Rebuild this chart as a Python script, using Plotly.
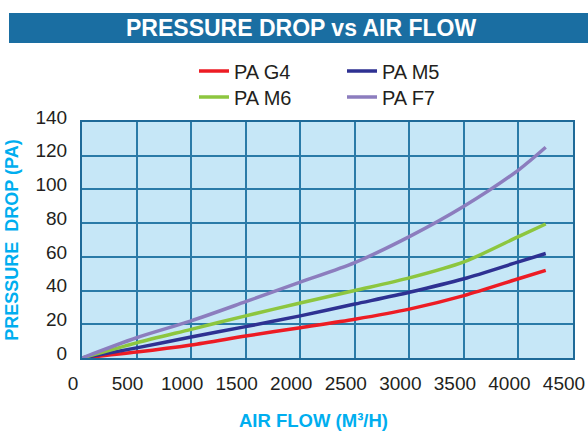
import plotly.graph_objects as go

# Data
air_flow = [0, 500, 1000, 1500, 2000, 2500, 3000, 3500, 4000, 4250]
pa_g4 = [0, 3.5, 7.7, 13, 18, 23, 29, 37, 47, 52]
pa_m5 = [0, 6, 12.5, 18.6, 25, 32, 39, 47, 57, 62]
pa_m6 = [0, 9, 17, 25, 32.6, 40, 47.5, 57, 72, 79.5]
pa_f7 = [0, 12, 22, 33.4, 45, 56.6, 72, 90, 111.5, 125]

series = [
    ("PA G4", pa_g4, "#ED1C24", "legend"),
    ("PA M5", pa_m5, "#2E3192", "legend"),
    ("PA M6", pa_m6, "#8DC63F", "legend2"),
    ("PA F7", pa_f7, "#8C7DBE", "legend2"),
]

FONT = "Liberation Sans, Arial, sans-serif"
TXT = "#231F20"
CYAN = "#00AEEF"

fig = go.Figure()
for name, ys, color, leg in series:
    fig.add_trace(go.Scatter(
        x=air_flow, y=ys, name=name, mode="lines",
        line=dict(color=color, width=3.5, shape="spline", smoothing=0.8),
        legend=leg,
    ))

W, H = 588, 432
L, R, T, B = 82, 15, 122, 74
pw = W - L - R
ph = H - T - B

def px(x):
    return (x - L) / pw

def py(y):
    return (H - B - y) / ph

legend_common = dict(
    orientation="h", xanchor="left", yanchor="middle",
    font=dict(family=FONT, size=20, color=TXT),
    entrywidth=103, entrywidthmode="pixels",
    bgcolor="rgba(0,0,0,0)", borderwidth=0,
    tracegroupgap=0, itemclick=False,
)

fig.update_layout(
    width=W, height=H,
    margin=dict(l=L, r=R, t=T, b=B, autoexpand=False),
    paper_bgcolor="white",
    plot_bgcolor="#C6E7F7",
    showlegend=True,
    legend=dict(x=px(194), y=py(71), **legend_common),
    legend2=dict(x=px(194), y=py(97), **legend_common),
    shapes=[
        dict(type="rect", xref="paper", yref="paper",
             x0=px(9), x1=px(600), y0=py(43), y1=py(13),
             fillcolor="#1A6EA2", line=dict(width=0), layer="above"),
    ],
    annotations=[
        dict(text="<b>PRESSURE DROP vs AIR FLOW</b>", xref="paper", yref="paper",
             x=px(301), y=py(28), xanchor="center", yanchor="middle",
             showarrow=False, font=dict(family=FONT, size=23, color="white")),
        dict(text="<b>AIR FLOW (M³/H)</b>", xref="paper", yref="paper",
             x=px(313), y=py(420), xanchor="center", yanchor="middle",
             showarrow=False, font=dict(family=FONT, size=18.5, color=CYAN)),
    ],
    xaxis=dict(
        range=[0, 4500], dtick=500, tick0=0,
        showgrid=True, gridcolor="#2A7BA8", gridwidth=1.5,
        zeroline=False,
        showline=True, linecolor="#1E6A98", linewidth=2, mirror=True,
        ticks="", ticklabelstandoff=7, ticklabelshift=-9,
        tickfont=dict(family=FONT, size=19, color=TXT),
        automargin=False, fixedrange=True,
    ),
    yaxis=dict(
        range=[0, 140], dtick=20, tick0=0,
        showgrid=True, gridcolor="#2A7BA8", gridwidth=1.5,
        zeroline=False,
        showline=True, linecolor="#1E6A98", linewidth=2, mirror=True,
        ticks="", ticklabelstandoff=9, ticklabelshift=-5,
        tickfont=dict(family=FONT, size=19, color=TXT),
        title=dict(text="<b>PRESSURE  DROP (PA)</b>", standoff=12,
                   font=dict(family=FONT, size=18, color=CYAN)),
        automargin=False, fixedrange=True,
    ),
)

fig.write_html(
    "out.html",
    config={"displayModeBar": False},
    post_script="document.body.style.margin='0';document.body.style.overflow='hidden';",
)
